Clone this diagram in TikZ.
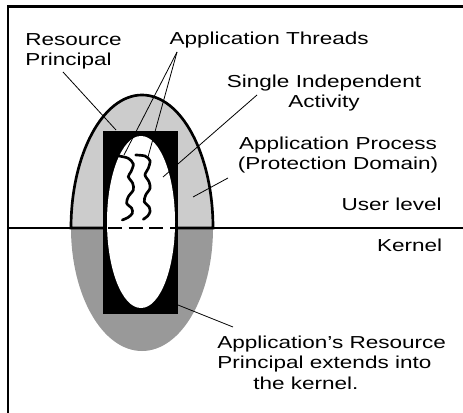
\documentclass[tikz,border=0pt]{standalone}
\usepackage{fontspec}
\usepackage{xcolor}
\usepackage{tikz}
\newfontfamily\lblfont[FakeStretch=1.3]{Liberation Sans}
\definecolor{userfill}{gray}{0.8}
\definecolor{kernfill}{gray}{0.6}

\begin{document}
\begin{tikzpicture}[x=0.75pt,y=-0.75pt,
    lbl/.style={font=\lblfont\fontsize{13}{15.3}\selectfont, inner sep=0pt},
    leader/.style={line width=0.6pt},
    thread/.style={line width=2pt, line cap=round}]
    \useasboundingbox (0,0) rectangle (463,413);

    % Frame
    \draw[line width=2pt] (463,6.5) -- (8,6.5) -- (8,413);

    % Process, kernel half and user half
    \fill[kernfill] (71,228) arc[start angle=180, end angle=0, x radius=71, y radius=123] -- cycle;
    \draw[line width=2pt, fill=userfill] (71,228) arc[start angle=180, end angle=360, x radius=71, y radius=133] -- cycle;

    % User level / kernel boundary
    \draw[line width=1.5pt] (8,228) -- (463,228);

    % Resource principal and the activity inside it
    \fill[black] (103,131) rectangle (178,314);
    \fill[white] (141,222) ellipse[x radius=34, y radius=86];
    \draw[line width=1.5pt, dash pattern=on 10.5pt off 5pt] (108,228) -- (175,228);

    % Threads
    \draw[thread] plot[smooth] coordinates {(119,156) (128.3,158.3) (133.3,164) (131,171.7) (128.3,176.7) (132.7,183.3) (133.3,190) (128.3,196.7) (126.7,203.3) (131.7,208.3) (132.3,213.3) (128.3,217.3) (122.3,220)};
    \draw[thread] plot[smooth] coordinates {(135.7,155) (145,156) (150,160.7) (148.3,168.3) (145,175) (149,181.7) (150,188.3) (145.7,195) (144.3,201.7) (149,206.7) (150,211.7) (147.7,216) (143.3,219.3)};

    % Labels (multi-line ones sit on their last line)
    \node[lbl, align=left, anchor=base west] (resprin) at (25,65.7) {Resource\\Principal};
    \node[lbl, anchor=base west] (appthr) at (169.3,45) {Application Threads};
    \node[lbl, align=center, anchor=base] (singact) at (324,108) {Single Independent\\Activity};
    \node[lbl, align=center, anchor=base] (appproc) at (338,170) {Application Process\\(Protection Domain)};
    \node[lbl, anchor=base east] (userlvl) at (442,210.7) {User level};
    \node[lbl, anchor=base east] (kernel) at (442.5,251.7) {Kernel};
    \node[lbl, align=left, anchor=base west] (appres) at (217,389) {Application’s Resource\\Principal extends into\\\hspace{27pt}the kernel.};

    % Leader lines
    \coordinate (rpFoot) at (63,72);
    \coordinate (rpTip) at (116,130);
    \coordinate (thrFoot) at (177,52);
    \coordinate (thrA) at (124,155);
    \coordinate (thrB) at (148,157);
    \coordinate (saFoot) at (257,95);
    \coordinate (saTip) at (163,177);
    \coordinate (apFoot) at (228,178);
    \coordinate (apTip) at (193,197);
    \coordinate (arFoot) at (233,327);
    \coordinate (arTip) at (178,305);
    \draw[leader] (rpFoot) -- (rpTip);
    \draw[leader] (thrFoot) -- (thrA);
    \draw[leader] (thrFoot) -- (thrB);
    \draw[leader] (saFoot) -- (saTip);
    \draw[leader] (apFoot) -- (apTip);
    \draw[leader] (arFoot) -- (arTip);
\end{tikzpicture}
\end{document}
